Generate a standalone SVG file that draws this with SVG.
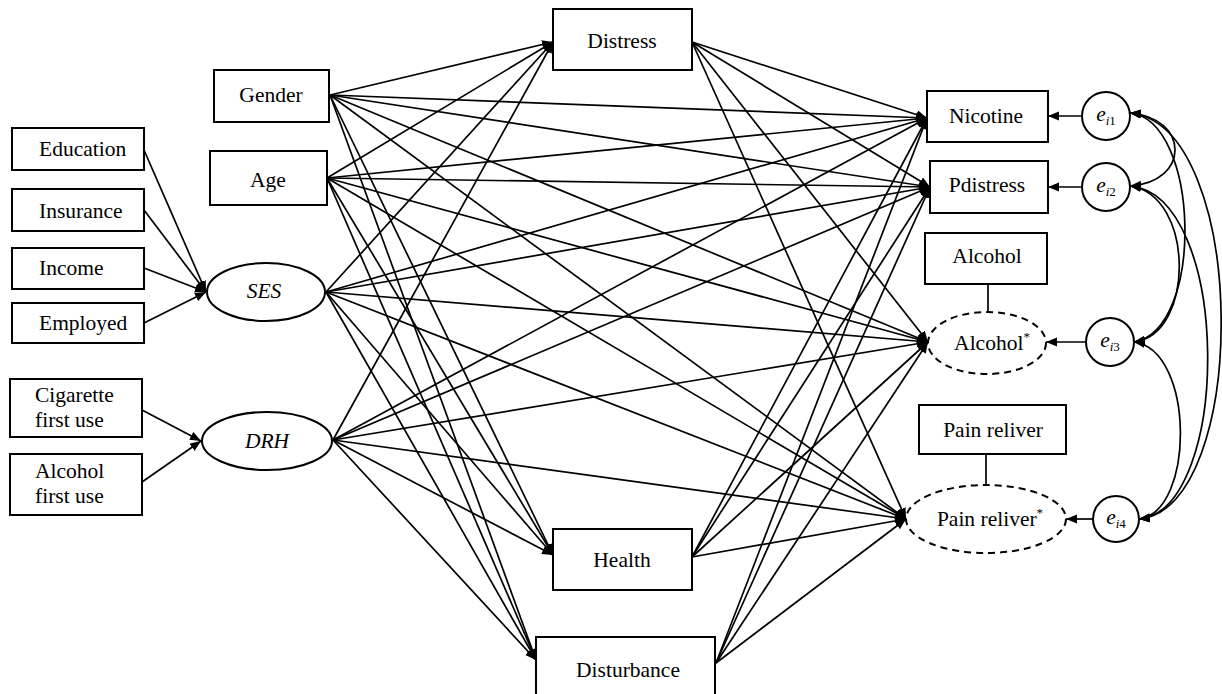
<svg xmlns="http://www.w3.org/2000/svg" width="1222" height="694" viewBox="0 0 1222 694">
<defs>
<marker id="ah" markerUnits="userSpaceOnUse" markerWidth="12" markerHeight="10" refX="11" refY="4.5" orient="auto-start-reverse"><path d="M0,0 L11,4.5 L0,9 z" fill="#000"/></marker>
<style>
.box{fill:#fff;stroke:#000;stroke-width:2}
.lat{fill:#fff;stroke:#000;stroke-width:2}
.dash{fill:#fff;stroke:#000;stroke-width:2;stroke-dasharray:7,5}
.t{font-family:"Liberation Serif",serif;font-size:21.5px;fill:#000}
.c{text-anchor:middle}
.i{font-style:italic}
.ln{stroke:#000;stroke-width:1.7;fill:none}
.ar{stroke:#000;stroke-width:1.7;fill:none;marker-end:url(#ah)}
.cv{stroke:#000;stroke-width:1.7;fill:none;marker-start:url(#ah);marker-end:url(#ah)}
</style>
</defs>
<rect width="1222" height="694" fill="#fff"/>
<g id="connectors">
<line class="ar" x1="144" y1="150" x2="206" y2="292"/>
<line class="ar" x1="144" y1="210" x2="206" y2="292"/>
<line class="ar" x1="144" y1="268" x2="206" y2="292"/>
<line class="ar" x1="144" y1="323" x2="206" y2="292"/>
<line class="ar" x1="142" y1="410" x2="201" y2="441"/>
<line class="ar" x1="142" y1="482" x2="201" y2="441"/>
<line class="ar" x1="330" y1="95" x2="553" y2="42"/>
<line class="ar" x1="330" y1="95" x2="553" y2="555"/>
<line class="ar" x1="330" y1="95" x2="536" y2="660"/>
<line class="ar" x1="330" y1="95" x2="927" y2="118"/>
<line class="ar" x1="330" y1="95" x2="930" y2="187"/>
<line class="ar" x1="330" y1="95" x2="928" y2="342"/>
<line class="ar" x1="330" y1="95" x2="906" y2="519"/>
<line class="ar" x1="327" y1="178" x2="553" y2="42"/>
<line class="ar" x1="327" y1="178" x2="553" y2="555"/>
<line class="ar" x1="327" y1="178" x2="536" y2="660"/>
<line class="ar" x1="327" y1="178" x2="927" y2="118"/>
<line class="ar" x1="327" y1="178" x2="930" y2="187"/>
<line class="ar" x1="327" y1="178" x2="928" y2="342"/>
<line class="ar" x1="327" y1="178" x2="906" y2="519"/>
<line class="ar" x1="326" y1="292" x2="553" y2="42"/>
<line class="ar" x1="326" y1="292" x2="553" y2="555"/>
<line class="ar" x1="326" y1="292" x2="536" y2="660"/>
<line class="ar" x1="326" y1="292" x2="927" y2="118"/>
<line class="ar" x1="326" y1="292" x2="930" y2="187"/>
<line class="ar" x1="326" y1="292" x2="928" y2="342"/>
<line class="ar" x1="326" y1="292" x2="906" y2="519"/>
<line class="ar" x1="333" y1="440" x2="553" y2="42"/>
<line class="ar" x1="333" y1="440" x2="553" y2="555"/>
<line class="ar" x1="333" y1="440" x2="536" y2="660"/>
<line class="ar" x1="333" y1="440" x2="927" y2="118"/>
<line class="ar" x1="333" y1="440" x2="930" y2="187"/>
<line class="ar" x1="333" y1="440" x2="928" y2="342"/>
<line class="ar" x1="333" y1="440" x2="906" y2="519"/>
<line class="ar" x1="692" y1="42" x2="927" y2="118"/>
<line class="ar" x1="692" y1="42" x2="930" y2="187"/>
<line class="ar" x1="692" y1="42" x2="928" y2="342"/>
<line class="ar" x1="692" y1="42" x2="906" y2="519"/>
<line class="ar" x1="692" y1="557" x2="927" y2="118"/>
<line class="ar" x1="692" y1="557" x2="930" y2="187"/>
<line class="ar" x1="692" y1="557" x2="928" y2="342"/>
<line class="ar" x1="692" y1="557" x2="906" y2="519"/>
<line class="ar" x1="716" y1="663" x2="927" y2="118"/>
<line class="ar" x1="716" y1="663" x2="930" y2="187"/>
<line class="ar" x1="716" y1="663" x2="928" y2="342"/>
<line class="ar" x1="716" y1="663" x2="906" y2="519"/>
<line class="ar" x1="1082" y1="116" x2="1048" y2="116"/>
<line class="ar" x1="1082" y1="187" x2="1048" y2="187"/>
<line class="ar" x1="1086" y1="342" x2="1046" y2="342"/>
<line class="ar" x1="1093" y1="519" x2="1066" y2="519"/>
<line class="ln" x1="988" y1="284" x2="988" y2="312"/>
<line class="ln" x1="986" y1="454" x2="986" y2="485"/>
<path class="cv" d="M1130,113 C1190,118 1190,182 1130,186"/>
<path class="cv" d="M1130,113 C1200,120 1205,330 1134,342"/>
<path class="cv" d="M1130,186 C1195,195 1195,335 1134,342"/>
<path class="cv" d="M1130,113 C1250,125 1250,510 1139,519"/>
<path class="cv" d="M1130,186 C1232,195 1232,510 1139,519"/>
<path class="cv" d="M1134,342 C1195,350 1195,512 1139,519"/>
</g>
<g id="education"><rect class="box" x="12" y="128" width="132" height="42"/><text class="t" x="39" y="156">Education</text></g>
<g id="insurance"><rect class="box" x="12" y="189" width="132" height="42"/><text class="t" x="39" y="218">Insurance</text></g>
<g id="income"><rect class="box" x="12" y="248" width="132" height="41"/><text class="t" x="39" y="275">Income</text></g>
<g id="employed"><rect class="box" x="12" y="303" width="132" height="40"/><text class="t" x="39" y="330">Employed</text></g>
<g id="cigarette"><rect class="box" x="10" y="379" width="132" height="58"/><text class="t" x="35" y="402">Cigarette</text><text class="t" x="35" y="427">first use</text></g>
<g id="alcoholfirst"><rect class="box" x="10" y="454" width="132" height="61"/><text class="t" x="35" y="478">Alcohol</text><text class="t" x="35" y="503">first use</text></g>
<g id="gender"><rect class="box" x="214" y="70" width="115" height="52"/><text class="t c" x="271" y="102">Gender</text></g>
<g id="age"><rect class="box" x="210" y="151" width="117" height="54"/><text class="t c" x="268" y="187">Age</text></g>
<g id="ses"><ellipse class="lat" cx="266" cy="292" rx="59" ry="29"/><text class="t c i" x="264" y="298">SES</text></g>
<g id="drh"><ellipse class="lat" cx="267" cy="441" rx="65" ry="29"/><text class="t c i" x="267" y="448">DRH</text></g>
<g id="distress"><rect class="box" x="553" y="9" width="139" height="61"/><text class="t c" x="622" y="48">Distress</text></g>
<g id="health"><rect class="box" x="553" y="529" width="139" height="61"/><text class="t c" x="622" y="567">Health</text></g>
<g id="disturbance"><rect class="box" x="536" y="637" width="179" height="70"/><text class="t c" x="628" y="677">Disturbance</text></g>
<g id="nicotine"><rect class="box" x="927" y="91" width="121" height="51"/><text class="t c" x="986" y="123">Nicotine</text></g>
<g id="pdistress"><rect class="box" x="930" y="161" width="118" height="52"/><text class="t c" x="987" y="192">Pdistress</text></g>
<g id="alcohol"><rect class="box" x="925" y="233" width="122" height="51"/><text class="t c" x="987" y="263">Alcohol</text></g>
<g id="alcoholstar"><ellipse class="dash" cx="987" cy="343" rx="59" ry="31"/><text class="t c" x="992" y="350">Alcohol<tspan font-size="13" dy="-9">*</tspan></text></g>
<g id="painreliver"><rect class="box" x="919" y="405" width="147" height="49"/><text class="t c" x="993" y="437">Pain reliver</text></g>
<g id="painreliverstar"><ellipse class="dash" cx="986" cy="519" rx="80" ry="34"/><text class="t c" x="990" y="526">Pain reliver<tspan font-size="13" dy="-9">*</tspan></text></g>
<g id="ei1"><circle class="lat" cx="1106" cy="116" r="24"/><text class="t c" x="1106" y="121"><tspan class="i">e</tspan><tspan font-size="13" dy="4"><tspan class="i">i</tspan>1</tspan></text></g>
<g id="ei2"><circle class="lat" cx="1106" cy="187" r="24"/><text class="t c" x="1106" y="192"><tspan class="i">e</tspan><tspan font-size="13" dy="4"><tspan class="i">i</tspan>2</tspan></text></g>
<g id="ei3"><circle class="lat" cx="1110" cy="342" r="24"/><text class="t c" x="1110" y="347"><tspan class="i">e</tspan><tspan font-size="13" dy="4"><tspan class="i">i</tspan>3</tspan></text></g>
<g id="ei4"><circle class="lat" cx="1116" cy="519" r="23"/><text class="t c" x="1116" y="524"><tspan class="i">e</tspan><tspan font-size="13" dy="4"><tspan class="i">i</tspan>4</tspan></text></g>
</svg>
